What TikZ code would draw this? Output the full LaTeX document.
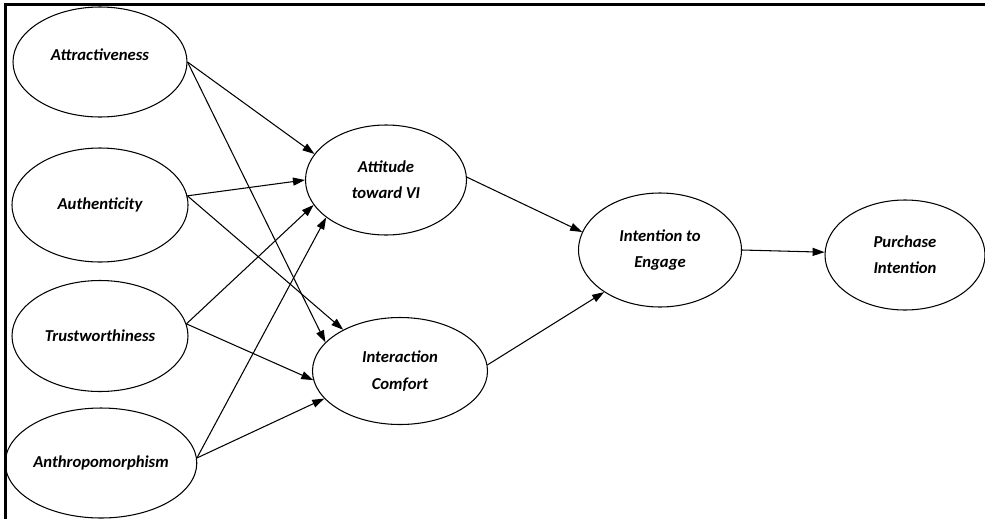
\documentclass[tikz,border=0pt]{standalone}
\usepackage{fontspec}
\setmainfont{Carlito}
\usetikzlibrary{shapes.geometric, arrows.meta}

\begin{document}
\begin{tikzpicture}[
    font=\fontsize{9.5}{15}\selectfont\bfseries\itshape,
    construct/.style={ellipse, draw, line width=0.6pt, minimum width=3.5cm, minimum height=2.2cm, align=center, inner sep=0pt},
    link/.style={-{Triangle[length=2.4mm, width=1.6mm]}, line width=0.6pt},
    outline/.style={line width=1.8pt}
]
\useasboundingbox (0, 0) rectangle (19.7, 10.38);
\draw[outline] (0.11, 0) |- (19.7, 10.29);

% left column
\node[construct, minimum width=3.48cm, text depth=0.28cm] (attr) at (2.00, 9.14) {Attractiveness};
\node[construct, minimum width=3.52cm, minimum height=2.28cm] (auth) at (2.00, 6.28) {Authenticity};
\node[construct, minimum width=3.52cm, minimum height=2.22cm] (trust) at (2.00, 3.66) {Trustworthiness};
\node[construct, minimum width=3.74cm] (anth) at (2.02, 1.12) {Anthropomorphism};

% mediators
\node[construct, minimum width=3.22cm] (att) at (7.72, 6.78) {Attitude\\toward VI};
\node[construct, minimum height=2.14cm] (ic) at (8.00, 2.96) {Interaction\\Comfort};

% outcomes
\node[construct, minimum width=3.26cm, minimum height=2.28cm] (eng) at (13.20, 5.38) {Intention to\\Engage};
\node[construct, minimum width=3.2cm] (buy) at (18.10, 5.28) {Purchase\\Intention};

\draw[link] (attr.east) -- (att.160);
\draw[link] (attr.east) -- (ic.159);
\draw[link] (auth.6) -- (att.180);
\draw[link] (auth.6) -- (ic.144);
\draw[link] (trust.8) -- (att.199);
\draw[link] (trust.8) -- (ic.186);
\draw[link] (anth.3) -- (att.212);
\draw[link] (anth.3) -- (ic.200);
\draw[link] (att.2) -- (eng.167);
\draw[link] (ic.4) -- (eng.217);
\draw[link] (eng.east) -- (buy.178);
\end{tikzpicture}
\end{document}
